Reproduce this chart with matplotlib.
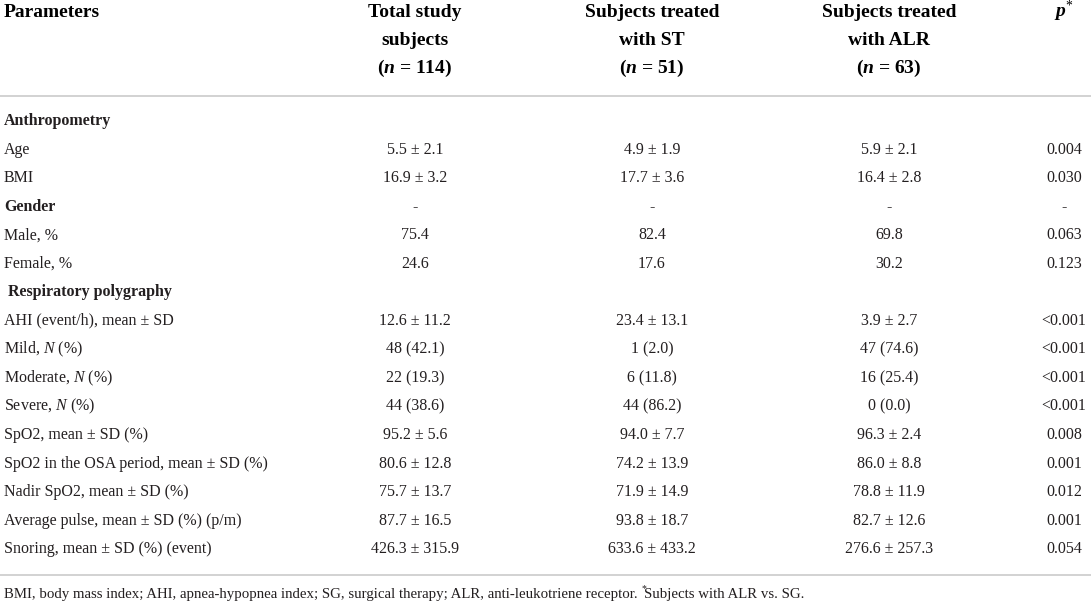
import matplotlib.pyplot as plt

plt.rcParams['font.family'] = ['Liberation Serif', 'DejaVu Serif']
plt.rcParams['mathtext.fontset'] = 'custom'
plt.rcParams['mathtext.rm'] = 'Liberation Serif'
plt.rcParams['mathtext.it'] = 'Liberation Serif:italic'
plt.rcParams['mathtext.bf'] = 'Liberation Serif:bold'
plt.rcParams['mathtext.bfit'] = 'Liberation Serif:italic:bold'

# column headers, one list per header line
header_l1 = ["Total study", "Subjects treated", "Subjects treated"]
header_l2 = ["subjects", "with ST", "with ALR"]
header_n = [114, 51, 63]

# table rows
parameters = [
    "Anthropometry", "Age", "BMI", "Gender", "Male, %", "Female, %",
    " Respiratory polygraphy", "AHI (event/h), mean ± SD", "Mild, $N$ (%)",
    "Moderate, $N$ (%)", "Severe, $N$ (%)", "SpO2, mean ± SD (%)",
    "SpO2 in the OSA period, mean ± SD (%)", "Nadir SpO2, mean ± SD (%)",
    "Average pulse, mean ± SD (%) (p/m)", "Snoring, mean ± SD (%) (event)",
]
section_rows = ["Anthropometry", "Gender", " Respiratory polygraphy"]

total = ["", "5.5 ± 2.1", "16.9 ± 3.2", "-", "75.4", "24.6", "",
         "12.6 ± 11.2", "48 (42.1)", "22 (19.3)", "44 (38.6)", "95.2 ± 5.6",
         "80.6 ± 12.8", "75.7 ± 13.7", "87.7 ± 16.5", "426.3 ± 315.9"]
st = ["", "4.9 ± 1.9", "17.7 ± 3.6", "-", "82.4", "17.6", "",
      "23.4 ± 13.1", "1 (2.0)", "6 (11.8)", "44 (86.2)", "94.0 ± 7.7",
      "74.2 ± 13.9", "71.9 ± 14.9", "93.8 ± 18.7", "633.6 ± 433.2"]
alr = ["", "5.9 ± 2.1", "16.4 ± 2.8", "-", "69.8", "30.2", "",
       "3.9 ± 2.7", "47 (74.6)", "16 (25.4)", "0 (0.0)", "96.3 ± 2.4",
       "86.0 ± 8.8", "78.8 ± 11.9", "82.7 ± 12.6", "276.6 ± 257.3"]
pvals = ["", "0.004", "0.030", "-", "0.063", "0.123", "",
         "<0.001", "<0.001", "<0.001", "<0.001", "0.008",
         "0.001", "0.012", "0.001", "0.054"]

footnote_a = ("BMI, body mass index; AHI, apnea-hypopnea index; SG, surgical therapy; "
              "ALR, anti-leukotriene receptor. ")
footnote_b = "Subjects with ALR vs. SG."

W, H = 1091, 606
fig = plt.figure(figsize=(W / 100, H / 100), dpi=100)
ax = fig.add_axes([0, 0, 1, 1])
ax.set_xlim(0, W)
ax.set_ylim(H, 0)
ax.axis('off')

txt = '#231f20'
col_x = [415, 652, 889]
p_x = 1064
fs = 11.5
hfs = 14
ffs = 10.7

# header
ax.text(4, 17, "Parameters", fontsize=hfs, fontweight='bold', color='black',
        va='baseline', ha='left')
for x, l1, l2, n in zip(col_x, header_l1, header_l2, header_n):
    ax.text(x, 17, l1, fontsize=hfs, fontweight='bold', color='black',
            va='baseline', ha='center')
    ax.text(x, 45, l2, fontsize=hfs, fontweight='bold', color='black',
            va='baseline', ha='center')
    ax.text(x, 73, "($\\mathbfit{n}$ = %d)" % n, fontsize=hfs, fontweight='bold',
            color='black', va='baseline', ha='center')
ax.text(p_x, 17, "$\\mathbfit{p}^{*}$", fontsize=hfs, color='black',
        va='baseline', ha='center')

ax.plot([0, W], [96, 96], color='#cfcfcf', lw=1.3)

y0, dy = 125, 28.55
for i, name in enumerate(parameters):
    y = y0 + i * dy
    bold = name in section_rows
    ax.text(4, y, name, fontsize=fs, color=txt, va='baseline', ha='left',
            fontweight='bold' if bold else 'normal')
    for x, col in zip(col_x, [total, st, alr]):
        ax.text(x, y, col[i], fontsize=fs, color=txt, va='baseline', ha='center')
    ax.text(p_x, y, pvals[i], fontsize=fs, color=txt, va='baseline', ha='center')

ax.plot([0, W], [575, 575], color='#cfcfcf', lw=1.3)

# footnote: plain text, small raised asterisk, then the rest
t1 = ax.text(4, 598, footnote_a, fontsize=ffs, color=txt, va='baseline', ha='left')
renderer = fig.canvas.get_renderer()
x_end = ax.transData.inverted().transform(t1.get_window_extent(renderer))[1][0]
ax.text(x_end, 591, "*", fontsize=7, color=txt, va='baseline', ha='left')
ax.text(x_end + 3, 598, footnote_b, fontsize=ffs, color=txt, va='baseline', ha='left')

fig.savefig('out.png', dpi=100, facecolor='white')
